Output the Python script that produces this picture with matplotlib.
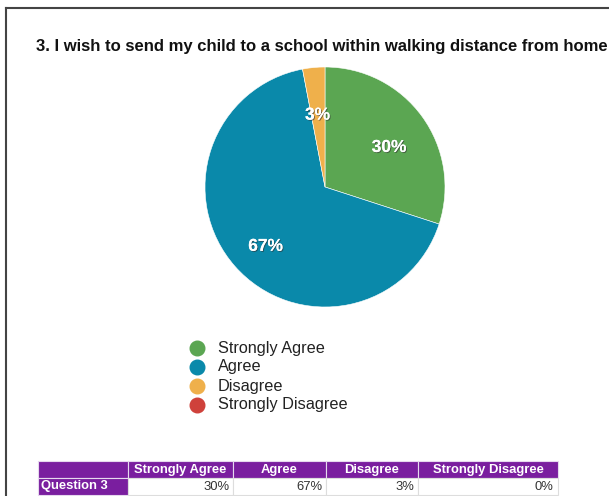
import matplotlib.pyplot as plt
import matplotlib.patheffects as pe
import matplotlib.transforms as mtransforms
from matplotlib.lines import Line2D

# Dane wykresu
categories = ["Strongly Agree", "Agree", "Disagree", "Strongly Disagree"]
values = [30, 67, 3, 0]
colors = ["#5ba652", "#0a89aa", "#efb04b", "#cf413b"]
row_label = "Question 3"
title = "3. I wish to send my child to a school within walking distance from home"

plt.rcParams["font.family"] = ["Liberation Sans", "DejaVu Sans"]

W, H = 609, 496
fig = plt.figure(figsize=(W / 100, H / 100), dpi=100)


def fig_rect(x0, y0, x1, y1):
    """Prostokąt w pikselach (od góry) -> współrzędne figury"""
    return [x0 / W, 1 - y1 / H, (x1 - x0) / W, (y1 - y0) / H]


# Ramka (lewa i górna krawędź)
fig.add_artist(Line2D([6 / W, 6 / W], [0, 1 - 8 / H], color="#444444", lw=1.5))
fig.add_artist(Line2D([6 / W, 1], [1 - 8 / H, 1 - 8 / H], color="#444444", lw=1.5))

# Tytuł
fig.text(36 / W, 1 - 46 / H, title, fontsize=12.0, fontweight="bold",
         va="center", ha="left", color="#111111")

# Wykres kołowy
ax = fig.add_axes(fig_rect(205, 67, 445, 307))
shown = [(v, c) for v, c in zip(values, colors) if v > 0]
wedges, texts, autotexts = ax.pie(
    [v for v, _ in shown], colors=[c for _, c in shown],
    startangle=90, counterclock=False, autopct="%d%%", pctdistance=0.66,
    wedgeprops={"edgecolor": "white", "linewidth": 0.4},
)
shift = mtransforms.ScaledTranslation(0, -7 / 100, fig.dpi_scale_trans)
for t in autotexts:
    t.set_color("white")
    t.set_fontweight("bold")
    t.set_fontsize(12.5)
    t.set_transform(t.get_transform() + shift)
    t.set_path_effects([pe.withSimplePatchShadow(offset=(0.7, -0.7), shadow_rgbFace="#333333", alpha=0.6),
                        pe.Normal()])
ax.set_xlim(-1, 1)
ax.set_ylim(-1, 1)
ax.set_aspect("equal")

# Legenda
for i, (cat, col) in enumerate(zip(categories, colors)):
    y = 1 - (348 + 19 * i) / H
    fig.add_artist(Line2D([197 / W], [y], marker="o", markersize=10.5,
                          color=col, linestyle="none"))
    fig.text(218 / W, y, cat, fontsize=11.7, va="center", ha="left", color="#222222")

# Tabela
purple = "#7a1e9f"
tax = fig.add_axes(fig_rect(38, 461, 558, 495))
tax.axis("off")
cell_text = [[""] + categories, [row_label] + [f"{v}%" for v in values]]
col_w = [90, 105, 93, 92, 140]
tbl = tax.table(cellText=cell_text, colWidths=[w / sum(col_w) for w in col_w],
                bbox=[0, 0, 1, 1], cellLoc="right")
tbl.auto_set_font_size(False)
for (r, c), cell in tbl.get_celld().items():
    txt = cell.get_text()
    txt.set_fontsize(9.4)
    cell.PAD = 0.035
    if r == 0 or c == 0:
        cell.set_facecolor(purple)
        cell.set_edgecolor("#e6d8ee")
        txt.set_color("white")
        txt.set_fontweight("bold")
        if r == 0:
            cell._loc = "center"
            txt.set_ha("center")
        else:
            cell._loc = "left"
            txt.set_ha("left")
    else:
        cell.set_facecolor("white")
        cell.set_edgecolor("#dddddd")
        txt.set_color("#333333")
    cell.set_linewidth(0.8)

fig.savefig("out.png", dpi=100)
